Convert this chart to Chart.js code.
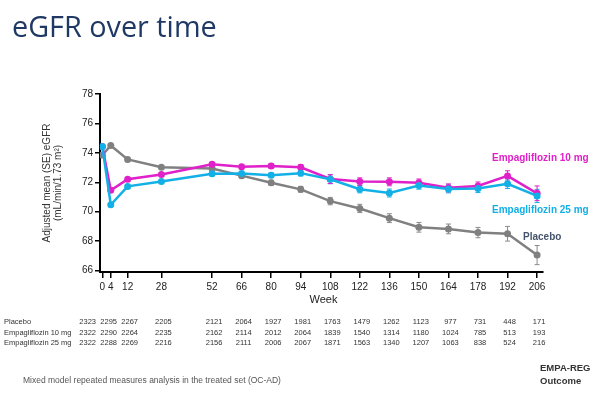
<!DOCTYPE html>
<html>
<head>
<meta charset="utf-8">
<script src="https://cdn.jsdelivr.net/npm/chart.js@4/dist/chart.umd.min.js"></script>
<style>
html,body{margin:0;padding:0;background:#fff;}
#wrap{position:relative;width:600px;height:400px;overflow:hidden;font-family:"Liberation Sans",Arial,sans-serif;}
canvas{position:absolute;left:0;top:0;}
.t{position:absolute;white-space:nowrap;height:20px;line-height:20px;}
</style>
</head>
<body>
<div id="wrap">
<canvas id="c" width="600" height="400"></canvas>
<div class="t" style="left:12px;top:14px;font-family:'Open Sans',sans-serif;font-size:28.8px;color:#1f3864;height:24px;line-height:24px;">eGFR over time</div>
<div class="t" style="left:492px;top:148px;font-size:10px;font-weight:bold;color:#e020c8;">Empagliflozin 10 mg</div>
<div class="t" style="left:492px;top:200px;font-size:10px;font-weight:bold;color:#12b0e6;">Empagliflozin 25 mg</div>
<div class="t" style="left:523px;top:227px;font-size:10px;font-weight:bold;color:#44546a;">Placebo</div>
<div class="t" style="left:23px;top:370px;font-size:8.5px;color:#555;">Mixed model repeated measures analysis in the treated set (OC-AD)</div>
<div class="t" style="left:540px;top:358px;font-size:9.5px;font-weight:bold;color:#333;">EMPA-REG</div>
<div class="t" style="left:540px;top:371px;font-size:9.5px;font-weight:bold;color:#333;">Outcome</div>
</div>
<script>
const weeks = [0,4,12,28,52,66,80,94,108,122,136,150,164,178,192,206];
const yTicks = [66,68,70,72,74,76,78];

const placebo = [73.85,74.5,73.55,73.02,72.94,72.45,71.97,71.52,70.72,70.22,69.56,68.94,68.83,68.58,68.5,67.05];
const emp10   = [74.43,71.45,72.2,72.53,73.22,73.05,73.1,73.02,72.22,72.05,72.03,71.97,71.62,71.75,72.43,71.25];
const emp25   = [74.43,70.47,71.72,72.05,72.58,72.6,72.48,72.62,72.2,71.53,71.27,71.78,71.55,71.57,71.9,71.07];

const placeboSE = [0.08,0.08,0.1,0.12,0.15,0.15,0.17,0.2,0.25,0.28,0.3,0.33,0.33,0.35,0.5,0.65];
const emp10SE   = [0.08,0.08,0.1,0.12,0.13,0.14,0.16,0.18,0.3,0.25,0.27,0.25,0.27,0.27,0.35,0.5];
const emp25SE   = [0.08,0.08,0.1,0.12,0.13,0.14,0.16,0.18,0.3,0.25,0.27,0.25,0.27,0.27,0.32,0.45];

const rowLabels = ["Placebo","Empagliflozin 10 mg","Empagliflozin 25 mg"];
const placeboN = [2323,2295,2267,2205,2121,2064,1927,1981,1763,1479,1262,1123,977,731,448,171];
const emp10N   = [2322,2290,2264,2235,2162,2114,2012,2064,1839,1540,1314,1180,1024,785,513,193];
const emp25N   = [2322,2288,2269,2216,2156,2111,2006,2067,1871,1563,1340,1207,1063,838,524,216];

const C10 = '#e020c8', C25 = '#12b0e6', CP = '#808080';

function pts(vals){ return weeks.map((w,i)=>({x:w,y:vals[i]})); }

const errorBars = {
  id:'errorBars',
  beforeDatasetsDraw(chart){
    const {ctx, scales:{x,y}} = chart;
    chart.data.datasets.forEach(ds=>{
      ctx.save();
      ctx.strokeStyle = ds.errColor;
      ctx.lineWidth = 1;
      ds.data.forEach((p,i)=>{
        const px = x.getPixelForValue(p.x);
        const y1 = y.getPixelForValue(p.y + ds.se[i]);
        const y2 = y.getPixelForValue(p.y - ds.se[i]);
        ctx.beginPath();
        ctx.moveTo(px,y1); ctx.lineTo(px,y2);
        ctx.moveTo(px-2.5,y1); ctx.lineTo(px+2.5,y1);
        ctx.moveTo(px-2.5,y2); ctx.lineTo(px+2.5,y2);
        ctx.stroke();
      });
      ctx.restore();
    });
  }
};

const tablePlugin = {
  id:'tablePlugin',
  afterDraw(chart){
    const {ctx, scales:{x}} = chart;
    ctx.save();
    ctx.fillStyle = '#222';
    ctx.font = '11px "Liberation Sans", Arial, sans-serif';
    ctx.textAlign = 'center';
    ctx.textBaseline = 'middle';
    ctx.fillText('Week', (x.left + x.right)/2 + 2, 300);
    const xs = weeks.map(w => x.getPixelForValue(w) + 2);
    for (let i = xs.length - 2; i >= 0; i--) xs[i] = Math.min(xs[i], xs[i+1] - 21);
    const rows = [placeboN, emp10N, emp25N];
    const rowY = [322, 332.6, 343.2];
    ctx.font = '7.5px "Liberation Sans", Arial, sans-serif';
    ctx.fillStyle = '#333';
    rows.forEach((r,ri)=>{
      ctx.textAlign = 'left';
      ctx.fillText(rowLabels[ri], 4, rowY[ri]);
      ctx.textAlign = 'center';
      r.forEach((n,i)=> ctx.fillText(String(n), xs[i], rowY[ri]));
    });
    ctx.restore();
  }
};

new Chart(document.getElementById('c'), {
  type:'line',
  data:{
    datasets:[
      {label:'Empagliflozin 25 mg', data:pts(emp25), se:emp25SE, errColor:C25, borderColor:C25, backgroundColor:C25, pointBackgroundColor:C25, borderWidth:2.5, pointRadius:3.5, pointBorderWidth:0, tension:0},
      {label:'Empagliflozin 10 mg', data:pts(emp10), se:emp10SE, errColor:C10, borderColor:C10, backgroundColor:C10, pointBackgroundColor:C10, borderWidth:2.5, pointRadius:3.5, pointBorderWidth:0, tension:0},
      {label:'Placebo', data:pts(placebo), se:placeboSE, errColor:'#8a8a8a', borderColor:CP, backgroundColor:CP, pointBackgroundColor:CP, borderWidth:2.5, pointRadius:3.5, pointBorderWidth:0, tension:0}
    ]
  },
  options:{
    responsive:false,
    animation:false,
    devicePixelRatio:1,
    layout:{padding:{left:0,top:94,right:57,bottom:0}},
    plugins:{legend:{display:false}, tooltip:{enabled:false}},
    scales:{
      x:{
        type:'linear', min:-1.1, max:208.8,
        afterBuildTicks(s){ s.ticks = weeks.map(v=>({value:v})); },
        afterFit(s){ s.height = 128; },
        grid:{drawOnChartArea:false, drawTicks:true, tickLength:6, color:'#000', lineWidth:1.5},
        border:{display:true, color:'#000', width:2},
        ticks:{color:'#222', padding:3, maxRotation:0, autoSkip:false, font:{family:'"Liberation Sans", Arial, sans-serif', size:10}}
      },
      y:{
        type:'linear', min:65.9, max:78,
        afterBuildTicks(s){ s.ticks = yTicks.map(v=>({value:v})); },
        afterFit(s){ s.width = 100; },
        grid:{drawOnChartArea:false, drawTicks:true, tickLength:5, color:'#000', lineWidth:1.5},
        border:{display:true, color:'#000', width:2},
        ticks:{color:'#222', padding:2, font:{family:'"Liberation Sans", Arial, sans-serif', size:10}},
        title:{display:true, text:['Adjusted mean (SE) eGFR','(mL/min/1.73 m²)'], color:'#333',
               padding:{top:42,bottom:0}, font:{family:'"Liberation Sans", Arial, sans-serif', size:10, lineHeight:1.1}}
      }
    }
  },
  plugins:[errorBars, tablePlugin]
});
</script>
</body>
</html>
